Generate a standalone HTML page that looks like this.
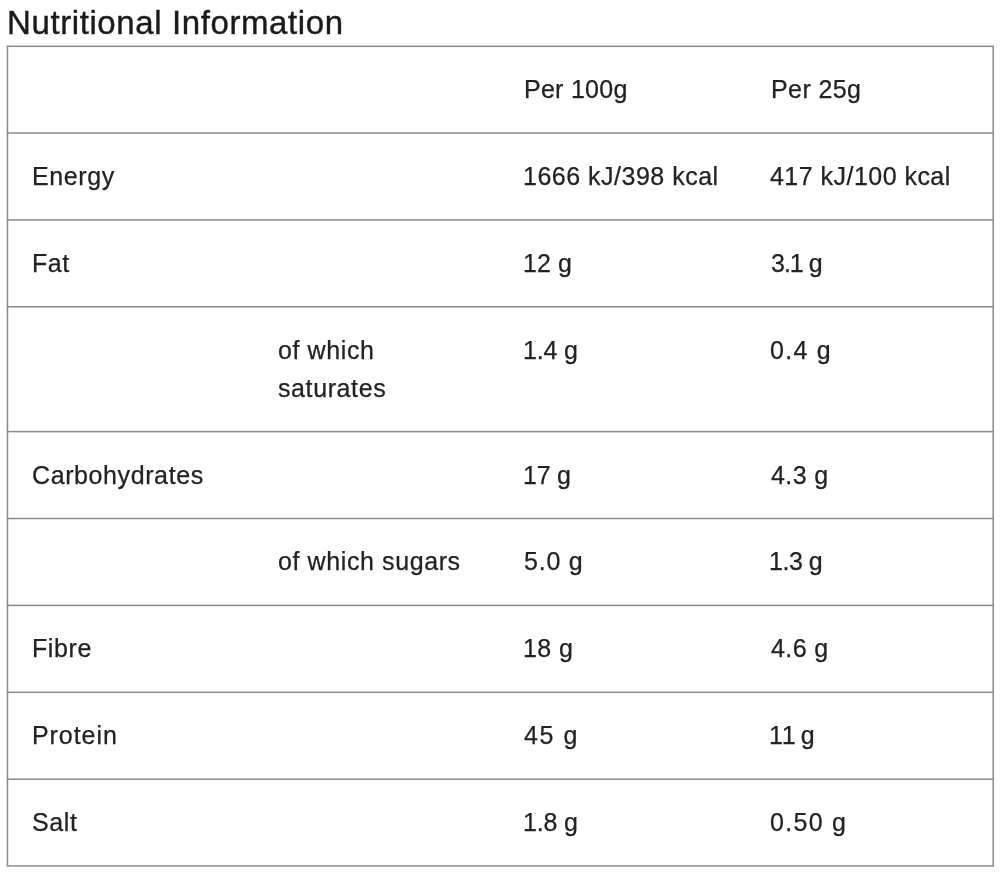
<!DOCTYPE html>
<html><head><meta charset="utf-8">
<style>
html,body{margin:0;padding:0;background:#fff;}
body{width:1000px;height:872px;position:relative;overflow:hidden;font-family:"Liberation Sans",sans-serif;color:#222;}
h1{position:absolute;will-change:transform;left:7px;top:3px;margin:0;font-weight:normal;font-size:33px;line-height:40px;letter-spacing:0.6px;-webkit-text-stroke:0.4px #1a1a1a;color:#1a1a1a;white-space:nowrap;}
.lines{position:absolute;left:0;top:0;}
.t{position:absolute;will-change:transform;-webkit-text-stroke:0.25px #222;font-size:25px;line-height:38px;letter-spacing:0.6px;white-space:nowrap;}
.c1{left:31.5px}.c2{left:277.5px}.c3{left:524px;letter-spacing:0.4px}.c4{left:771px;letter-spacing:0.4px}
</style></head><body>
<h1>Nutritional Information</h1>
<svg class="lines" width="1000" height="872" viewBox="0 0 1000 872">
<g fill="#8a8a8a"><rect x="6.75" y="45.55" width="987.2" height="1.50"/><rect x="6.75" y="132.25" width="987.2" height="1.50"/><rect x="6.75" y="219.20" width="987.2" height="1.50"/><rect x="6.75" y="306.05" width="987.2" height="1.50"/><rect x="6.75" y="430.85" width="987.2" height="1.50"/><rect x="6.75" y="517.75" width="987.2" height="1.50"/><rect x="6.75" y="604.65" width="987.2" height="1.50"/><rect x="6.75" y="691.55" width="987.2" height="1.50"/><rect x="6.75" y="778.45" width="987.2" height="1.50"/><rect x="6.75" y="865.20" width="987.2" height="1.50"/><rect x="6.75" y="46.30" width="1.50" height="819.65"/><rect x="992.45" y="46.30" width="1.50" height="819.65"/></g></svg>

<div class="t c3" style="top:70px;left:524px;letter-spacing:0.26px">Per 100g</div>
<div class="t c4" style="top:70px">Per 25g</div>

<div class="t c1" style="top:157px">Energy</div>
<div class="t c3" style="top:157px;left:523px;letter-spacing:0.5px">1666 kJ/398 kcal</div>
<div class="t c4" style="top:157px;left:770px;letter-spacing:0.47px">417 kJ/100 kcal</div>

<div class="t c1" style="top:244px">Fat</div>
<div class="t c3" style="top:244px;left:523px;letter-spacing:0.07px">12 g</div>
<div class="t c4" style="top:244px;left:771px;letter-spacing:-1px">3.1 g</div>

<div class="t c2" style="top:331px">of which<br>saturates</div>
<div class="t c3" style="top:331px;left:523px;letter-spacing:-0.2px">1.4 g</div>
<div class="t c4" style="top:331px;left:770px;letter-spacing:1.27px">0.4 g</div>

<div class="t c1" style="top:456px">Carbohydrates</div>
<div class="t c3" style="top:456px;left:523px;letter-spacing:-0.27px">17 g</div>
<div class="t c4" style="top:456px">4.3 g</div>

<div class="t c2" style="top:542px">of which sugars</div>
<div class="t c3" style="top:542px;left:524px;letter-spacing:0.77px">5.0 g</div>
<div class="t c4" style="top:542px;left:769px;letter-spacing:-0.475px">1.3 g</div>

<div class="t c1" style="top:629px">Fibre</div>
<div class="t c3" style="top:629px;left:523px;letter-spacing:0.4px">18 g</div>
<div class="t c4" style="top:629px">4.6 g</div>

<div class="t c1" style="top:716px;left:31.5px;letter-spacing:0.93px">Protein</div>
<div class="t c3" style="top:716px;left:524px;letter-spacing:1.57px">45 g</div>
<div class="t c4" style="top:716px;left:769px;letter-spacing:0.6px;word-spacing:-3px">11 g</div>

<div class="t c1" style="top:803px">Salt</div>
<div class="t c3" style="top:803px;left:523px;letter-spacing:-0.2px">1.8 g</div>
<div class="t c4" style="top:803px;left:770px;letter-spacing:1.3px">0.50 g</div>
</body></html>
